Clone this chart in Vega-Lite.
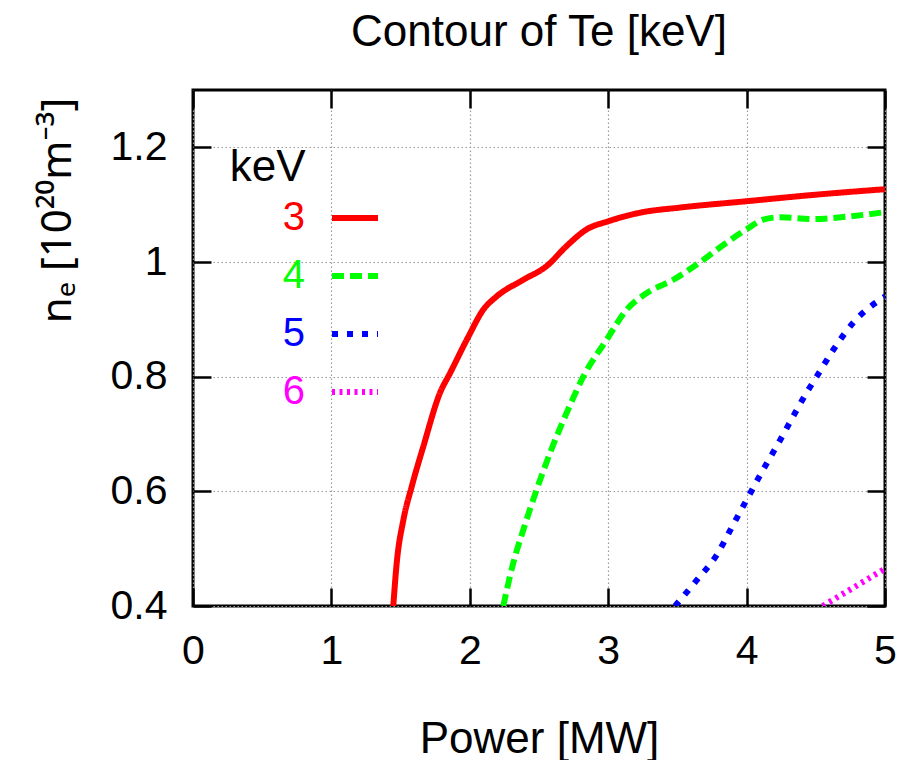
{
  "$schema": "https://vega.github.io/schema/vega-lite/v6.json",
  "width": 692,
  "height": 516,
  "autosize": {"type": "none"},
  "padding": {"left": 193, "top": 90, "right": 18, "bottom": 154},
  "background": "white",
  "title": {"text": "Contour of Te [keV]", "font": "Liberation Sans", "fontSize": 44, "fontWeight": "normal", "color": "black", "anchor": "middle", "offset": 34},
  "config": {
    "view": {"stroke": "black", "strokeWidth": 3, "fill": "white"},
    "font": "Liberation Sans",
    "axis": {
      "domain": false,
      "ticks": true,
      "tickColor": "black",
      "tickWidth": 2.5,
      "tickSize": -18,
      "labelFlush": false,
      "labelFont": "Liberation Sans",
      "labelFontSize": 41,
      "labelColor": "black",
      "titleFont": "Liberation Sans",
      "titleFontSize": 44,
      "titleFontWeight": "normal",
      "titleColor": "black",
      "gridColor": "#999999",
      "gridDash": [1.5, 2.5],
      "gridWidth": 1.2
    }
  },
  "data": {
    "values": [
      {"keV": "3", "P": 1.447, "ne": 0.4},
      {"keV": "3", "P": 1.472, "ne": 0.475},
      {"keV": "3", "P": 1.52, "ne": 0.55},
      {"keV": "3", "P": 1.58, "ne": 0.608},
      {"keV": "3", "P": 1.664, "ne": 0.678},
      {"keV": "3", "P": 1.785, "ne": 0.772},
      {"keV": "3", "P": 1.857, "ne": 0.806},
      {"keV": "3", "P": 1.99, "ne": 0.87},
      {"keV": "3", "P": 2.098, "ne": 0.917},
      {"keV": "3", "P": 2.194, "ne": 0.94},
      {"keV": "3", "P": 2.387, "ne": 0.969},
      {"keV": "3", "P": 2.556, "ne": 0.993},
      {"keV": "3", "P": 2.7, "ne": 1.028},
      {"keV": "3", "P": 2.845, "ne": 1.057},
      {"keV": "3", "P": 3.0, "ne": 1.071},
      {"keV": "3", "P": 3.23, "ne": 1.086},
      {"keV": "3", "P": 3.52, "ne": 1.095},
      {"keV": "3", "P": 4.0, "ne": 1.106},
      {"keV": "3", "P": 4.48, "ne": 1.117},
      {"keV": "3", "P": 5.0, "ne": 1.127},
      {"keV": "4", "P": 2.242, "ne": 0.4},
      {"keV": "4", "P": 2.314, "ne": 0.475},
      {"keV": "4", "P": 2.387, "ne": 0.533},
      {"keV": "4", "P": 2.483, "ne": 0.603},
      {"keV": "4", "P": 2.58, "ne": 0.667},
      {"keV": "4", "P": 2.7, "ne": 0.737},
      {"keV": "4", "P": 2.82, "ne": 0.8},
      {"keV": "4", "P": 2.99, "ne": 0.865},
      {"keV": "4", "P": 3.134, "ne": 0.917},
      {"keV": "4", "P": 3.28, "ne": 0.946},
      {"keV": "4", "P": 3.47, "ne": 0.969},
      {"keV": "4", "P": 3.66, "ne": 0.999},
      {"keV": "4", "P": 3.856, "ne": 1.034},
      {"keV": "4", "P": 4.0, "ne": 1.057},
      {"keV": "4", "P": 4.12, "ne": 1.074},
      {"keV": "4", "P": 4.24, "ne": 1.078},
      {"keV": "4", "P": 4.48, "ne": 1.075},
      {"keV": "4", "P": 4.72, "ne": 1.079},
      {"keV": "4", "P": 5.0, "ne": 1.087},
      {"keV": "5", "P": 3.483, "ne": 0.4},
      {"keV": "5", "P": 3.64, "ne": 0.445},
      {"keV": "5", "P": 3.784, "ne": 0.489},
      {"keV": "5", "P": 3.89, "ne": 0.536},
      {"keV": "5", "P": 4.0, "ne": 0.585},
      {"keV": "5", "P": 4.12, "ne": 0.638},
      {"keV": "5", "P": 4.23, "ne": 0.684},
      {"keV": "5", "P": 4.337, "ne": 0.731},
      {"keV": "5", "P": 4.446, "ne": 0.777},
      {"keV": "5", "P": 4.506, "ne": 0.8},
      {"keV": "5", "P": 4.627, "ne": 0.847},
      {"keV": "5", "P": 4.77, "ne": 0.894},
      {"keV": "5", "P": 4.95, "ne": 0.932},
      {"keV": "5", "P": 5.0, "ne": 0.94},
      {"keV": "6", "P": 4.55, "ne": 0.4},
      {"keV": "6", "P": 5.0, "ne": 0.465}
    ]
  },
  "layer": [
    {
      "mark": {"type": "line", "strokeWidth": 6, "interpolate": "monotone", "clip": true, "strokeCap": "butt"},
      "encoding": {
        "x": {"field": "P", "type": "quantitative", "scale": {"domain": [0, 5], "nice": false},
          "axis": {"orient": "bottom", "title": "Power [MW]", "values": [0, 1, 2, 3, 4, 5], "grid": true, "labelPadding": 43, "labelBaseline": "top", "titleBaseline": "alphabetic", "titleY": 146, "titleX": 346, "titleAnchor": null, "titleAlign": "center"}},
        "y": {"field": "ne", "type": "quantitative", "scale": {"domain": [0.4, 1.3], "nice": false, "zero": false},
          "axis": {"orient": "left", "title": "nₑ [10²⁰m⁻³]", "titleFont": "Noto Sans", "titleFontSize": 42, "values": [0.4, 0.6, 0.8, 1, 1.2], "format": "~g", "grid": true, "labelPadding": 44, "titleBaseline": "alphabetic", "titleX": -123, "titleY": 120, "titleAlign": "center", "titleAngle": -90}},
        "color": {"field": "keV", "type": "nominal",
          "scale": {"domain": ["3", "4", "5", "6"], "range": ["#ff0000", "#00ff00", "#0000ff", "#ff00ff"]},
          "legend": {
            "orient": "none", "legendX": 136, "legendY": 102, "padding": 0,
            "title": null,
            "labelFontSize": 40, "labelFont": "Liberation Sans",
            "symbolType": "stroke", "symbolSize": 2116, "symbolStrokeWidth": 6, "rowPadding": 12,
            "encode": {
              "labels": {"update": {"fill": {"scale": "color", "field": "value"}, "x": {"value": -24}, "align": {"value": "right"}}}
            }
          }},
        "strokeDash": {"field": "keV", "type": "nominal",
          "scale": {"domain": ["3", "4", "5", "6"], "range": [[1, 0], [12, 6], [6, 9], [3, 4.5]]}}
      }
    },
    {
      "mark": {"type": "rule", "opacity": 0},
      "encoding": {
        "x": {"field": "P", "type": "quantitative", "axis": {"orient": "top", "labels": false, "grid": false, "title": "keV", "titleX": 112, "titleY": 90, "titleAlign": "right", "titleAnchor": null, "titleBaseline": "alphabetic", "values": [0, 1, 2, 3, 4, 5]}},
        "y": {"field": "ne", "type": "quantitative", "axis": {"orient": "right", "labels": false, "grid": false, "title": null, "values": [0.4, 0.6, 0.8, 1, 1.2]}}
      }
    }
  ],
  "resolve": {"axis": {"x": "independent", "y": "independent"}}
}
